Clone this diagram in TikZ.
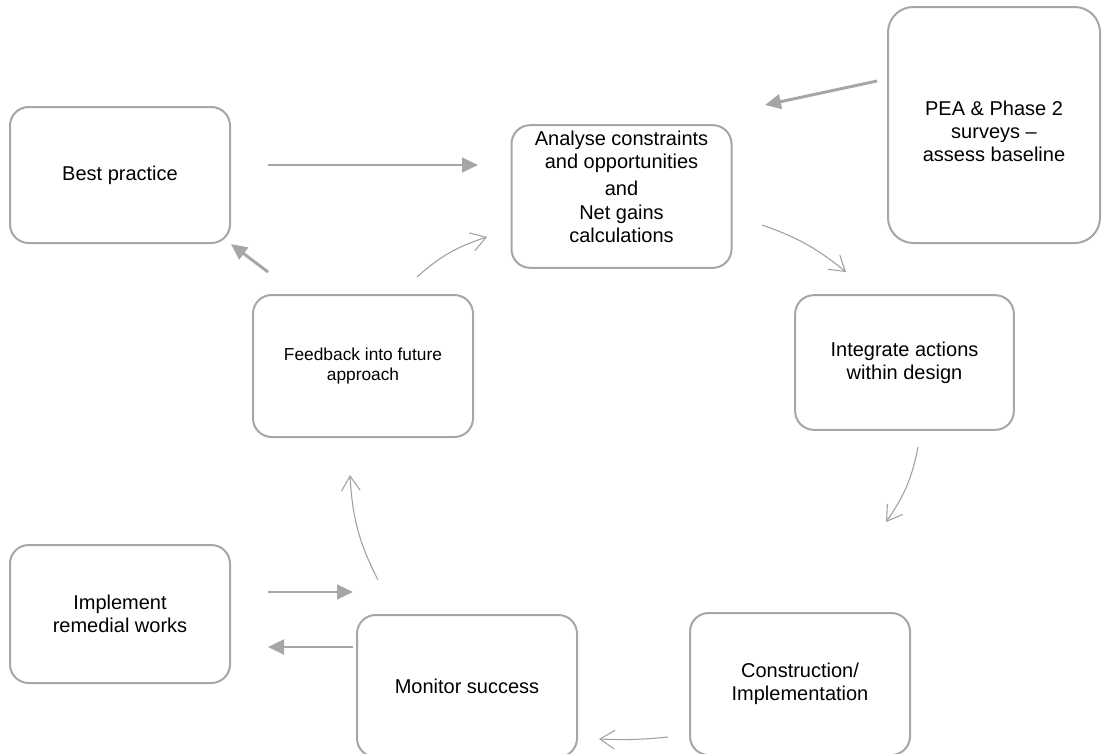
\documentclass[tikz,border=0pt]{standalone}
\usepackage{fontspec}
\setmainfont{Liberation Sans}
\usetikzlibrary{arrows.meta,bending}
\definecolor{boxgray}{HTML}{A6A6A6}
\definecolor{arrgray}{HTML}{A6A6A6}
\definecolor{thingray}{HTML}{A0A0A0}
\begin{document}
\begin{tikzpicture}[x=0.75pt,y=-0.75pt,
  stagebox/.style={draw=boxgray, line width=1.5pt, rounded corners=14pt, align=center,
    inner sep=0pt, font=\fontsize{15}{17.25}\selectfont, text=black, minimum width=165pt},
  boxtext/.style={align=center, inner sep=0pt, font=\fontsize{15}{17.25}\selectfont, text=black},
  thickarrow/.style={draw=arrgray, line width=2.2pt, -{Triangle[length=12pt,width=11pt]}},
  thinarrow/.style={draw=thingray, line width=0.8pt, -{Straight Barb[length=11pt,width=14pt]}},
]
\useasboundingbox (0,0) rectangle (1102,753);

% boxes
\node[stagebox, minimum height=102pt] (best) at (120,175) {Best practice};
\node[stagebox, minimum height=107pt,
  label={[boxtext, name=analysetext, yshift=7pt]center:{Analyse constraints\\and opportunities\\[3pt]and\\[1pt]Net gains\\calculations}}]
  (analyse) at (621.5,196.5) {};
\node[stagebox, minimum width=159pt, minimum height=177pt, rounded corners=19pt,
  label={[boxtext, name=peatext, yshift=-4.5pt]center:{PEA \& Phase 2\\surveys --\\assess baseline}}]
  (pea) at (994,125) {};
\node[stagebox, minimum width=164pt, minimum height=101pt] (integrate) at (904.5,362.5)
  {Integrate actions\\within design};
\node[stagebox, minimum height=106.5pt, font=\fontsize{13}{15}\selectfont] (feedback) at (363,366)
  {Feedback into future\\approach};
\node[stagebox, minimum height=103.5pt] (implement) at (120,614)
  {Implement\\remedial works};
\node[stagebox, minimum height=106.5pt] (monitor) at (467,686) {Monitor success};
\node[stagebox, minimum height=106.5pt] (construction) at (800,684)
  {Construction/\\Implementation};

% connector end points
\coordinate (a1s) at (268,165);  \coordinate (a1e) at (478,165);
\coordinate (a2s) at (877,81);   \coordinate (a2e) at (765,105);
\coordinate (a3s) at (268,272);  \coordinate (a3e) at (231,244);
\coordinate (a4s) at (268,592);  \coordinate (a4e) at (353,592);
\coordinate (a5s) at (353,647);  \coordinate (a5e) at (268,647);
\coordinate (c1s) at (417,277);  \coordinate (c1e) at (487,237);
\coordinate (c2s) at (762,225);  \coordinate (c2e) at (846,272);
\coordinate (c3s) at (918,447);  \coordinate (c3e) at (886,522);
\coordinate (c4s) at (668,737);  \coordinate (c4e) at (599,739);
\coordinate (c5s) at (378,580);  \coordinate (c5e) at (350,475);

% thick arrows
\draw[thickarrow] (a1s) -- (a1e);
\draw[thickarrow] (a2s) -- (a2e);
\draw[thickarrow] (a3s) -- (a3e);
\draw[thickarrow] (a4s) -- (a4e);
\draw[thickarrow] (a5s) -- (a5e);

% thin curved arrows
\draw[thinarrow] (c1s) to[bend left=12] (c1e);
\draw[thinarrow] (c2s) to[bend left=10] (c2e);
\draw[thinarrow] (c3s) to[bend left=12] (c3e);
\draw[thinarrow] (c4s) to[bend left=4] (c4e);
\draw[thinarrow] (c5s) to[bend left=12] (c5e);
\end{tikzpicture}
\end{document}
